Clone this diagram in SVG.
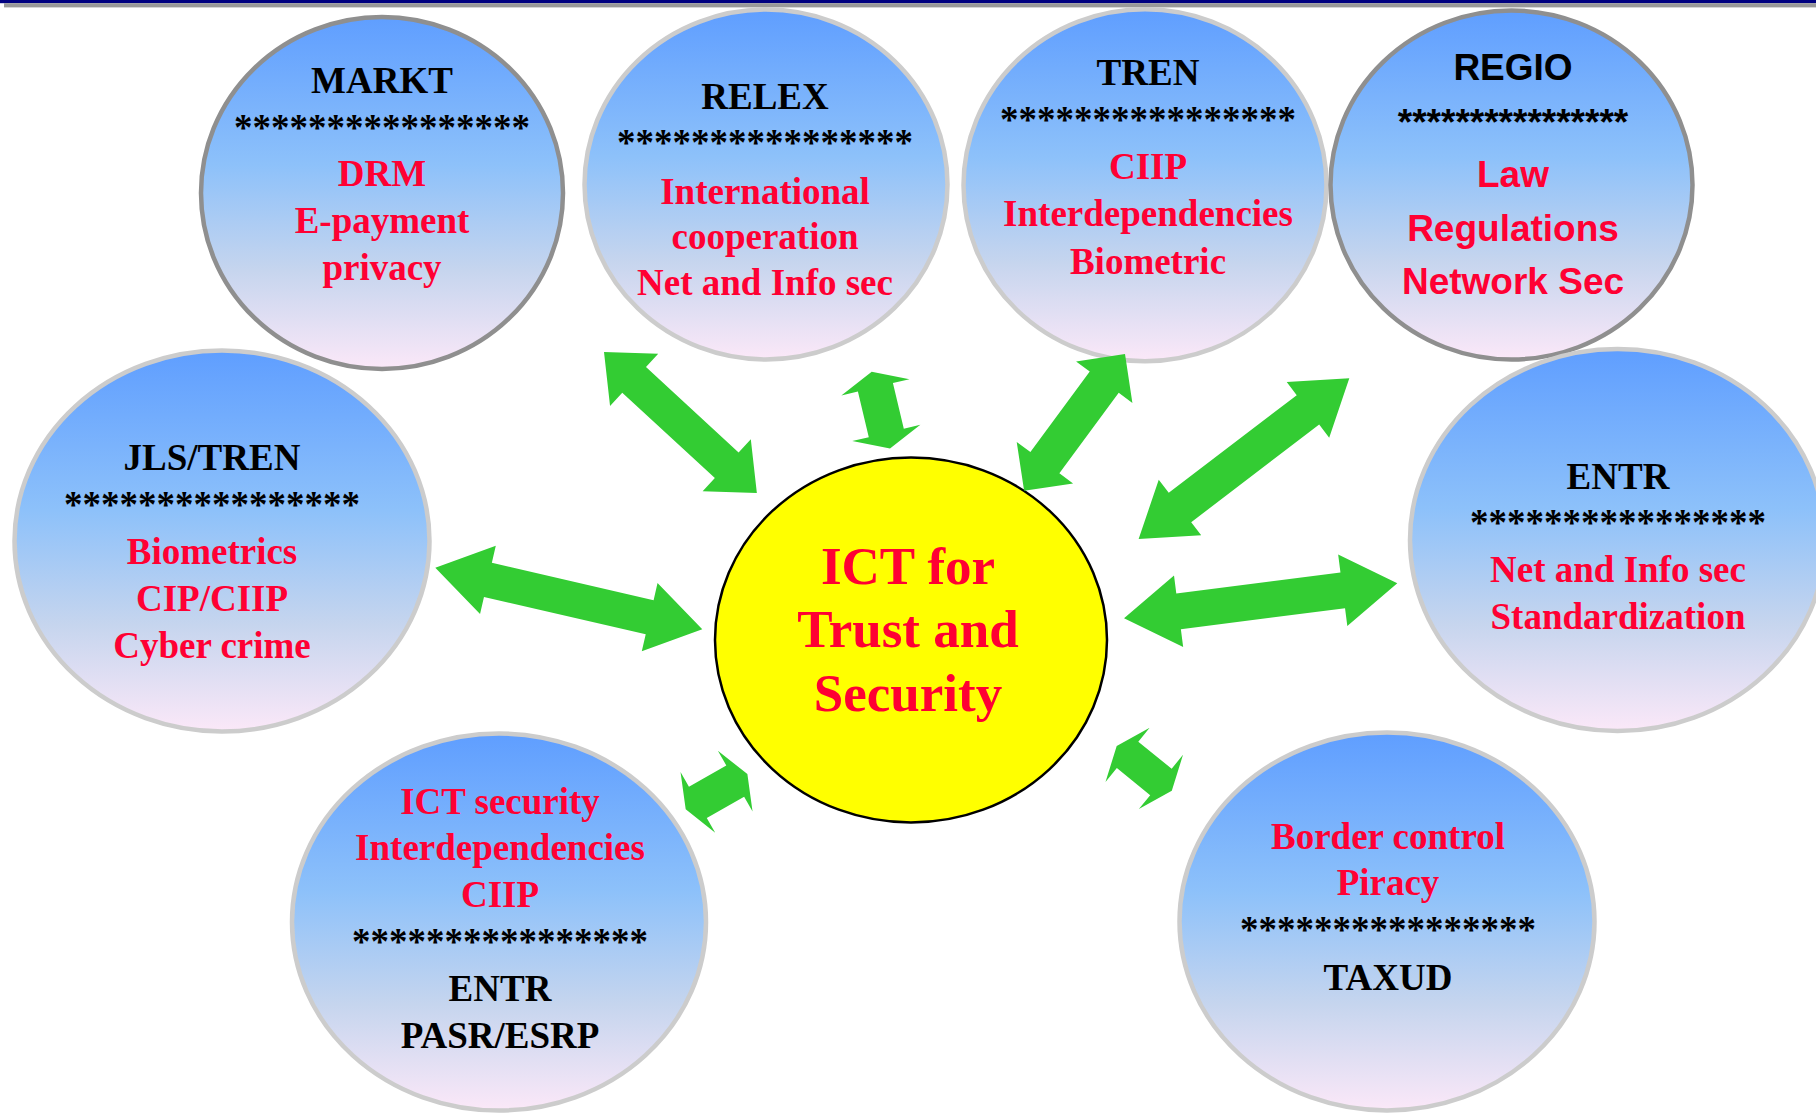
<svg xmlns="http://www.w3.org/2000/svg" width="1816" height="1114" viewBox="0 0 1816 1114">
  <defs>
    <linearGradient id="bubble" x1="0" y1="0" x2="0" y2="1">
      <stop offset="0" stop-color="#5F9EFF"/>
      <stop offset="0.42" stop-color="#8DC1FA"/>
      <stop offset="0.72" stop-color="#C6D5EE"/>
      <stop offset="1" stop-color="#FBE8F8"/>
    </linearGradient>
    <style>
      .bub { fill: url(#bubble); stroke-width: 4.5; }
      .light { stroke: #CCCCCC; }
      .dark { stroke: #8F8F8F; }
      .core { fill: #FFFF00; stroke: #000000; stroke-width: 2.5; }
      text { font-family: "Liberation Serif", "Times New Roman", serif; font-weight: bold; font-size: 37px; text-anchor: middle; }
      .sans { font-family: "Liberation Sans", Arial, sans-serif; }
      .k { fill: #000000; }
      .r { fill: #FF0033; }
      .big { font-size: 53px; }
      .arrow { fill: #33CC33; }
    </style>
  </defs>

  <rect width="1816" height="1114" fill="#FFFFFF"/>

  <!-- header rule -->
  <rect x="0" y="0" width="1816" height="3.2" fill="#000080"/>
  <rect x="4" y="3.2" width="1812" height="4.2" fill="#999999"/>

  <g id="markt">
    <ellipse class="bub dark" cx="382" cy="193" rx="181" ry="176"/>
    <text class="k" x="382" y="93">MARKT</text>
    <text class="k" x="382" y="140">****************</text>
    <text class="r" x="382" y="186">DRM</text>
    <text class="r" x="382" y="233">E-payment</text>
    <text class="r" x="382" y="280">privacy</text>
  </g>

  <g id="relex">
    <ellipse class="bub light" cx="766" cy="184.5" rx="181.5" ry="175"/>
    <text class="k" x="765" y="109">RELEX</text>
    <text class="k" x="765" y="155">****************</text>
    <text class="r" x="765" y="204">International</text>
    <text class="r" x="765" y="249">cooperation</text>
    <text class="r" x="765" y="295">Net and Info sec</text>
  </g>

  <g id="tren">
    <ellipse class="bub light" cx="1145" cy="185.3" rx="181.5" ry="176"/>
    <text class="k" x="1148" y="85">TREN</text>
    <text class="k" x="1148" y="132">****************</text>
    <text class="r" x="1148" y="179">CIIP</text>
    <text class="r" x="1148" y="226">Interdependencies</text>
    <text class="r" x="1148" y="274">Biometric</text>
  </g>

  <g id="regio">
    <ellipse class="bub dark" cx="1511.5" cy="185" rx="181" ry="174.5"/>
    <text class="k sans" x="1513" y="80">REGIO</text>
    <text class="k sans" x="1513" y="135">****************</text>
    <text class="r sans" x="1513" y="187">Law</text>
    <text class="r sans" x="1513" y="241">Regulations</text>
    <text class="r sans" x="1513" y="294">Network Sec</text>
  </g>

  <g id="jls-tren">
    <ellipse class="bub light" cx="222" cy="541" rx="207.5" ry="190.5"/>
    <text class="k" x="212" y="470">JLS/TREN</text>
    <text class="k" x="212" y="517">****************</text>
    <text class="r" x="212" y="564">Biometrics</text>
    <text class="r" x="212" y="611">CIP/CIIP</text>
    <text class="r" x="212" y="658">Cyber crime</text>
  </g>

  <g id="entr-right">
    <ellipse class="bub light" cx="1617.5" cy="540" rx="207.5" ry="191"/>
    <text class="k" x="1618" y="489">ENTR</text>
    <text class="k" x="1618" y="535">****************</text>
    <text class="r" x="1618" y="582">Net and Info sec</text>
    <text class="r" x="1618" y="629">Standardization</text>
  </g>

  <g id="entr-bottom">
    <ellipse class="bub light" cx="499" cy="922" rx="207" ry="188.5"/>
    <text class="r" x="500" y="814">ICT security</text>
    <text class="r" x="500" y="860">Interdependencies</text>
    <text class="r" x="500" y="907">CIIP</text>
    <text class="k" x="500" y="954">****************</text>
    <text class="k" x="500" y="1001">ENTR</text>
    <text class="k" x="500" y="1048">PASR/ESRP</text>
  </g>

  <g id="taxud">
    <ellipse class="bub light" cx="1387" cy="921.5" rx="207.5" ry="189"/>
    <text class="r" x="1388" y="849">Border control</text>
    <text class="r" x="1388" y="895">Piracy</text>
    <text class="k" x="1388" y="942">****************</text>
    <text class="k" x="1388" y="990">TAXUD</text>
  </g>

  <g id="ict-trust-security">
    <ellipse class="core" cx="911" cy="640" rx="196" ry="182.5"/>
    <text class="r big" x="908" y="584">ICT for</text>
    <text class="r big" x="908" y="647">Trust and</text>
    <text class="r big" x="908" y="711">Security</text>
  </g>

  <!-- two-headed block arrows, each drawn along +x from one tip and rotated into place -->
  <g id="connectors" class="arrow">
    <path transform="translate(604 352) rotate(42.7)" d="M0,0 L41,-35.5 L41,-17.5 L167,-17.5 L167,-35.5 L208,0 L167,35.5 L167,17.5 L41,17.5 L41,35.5Z"/>
    <path transform="translate(871.7 371.7) rotate(76.6)" d="M0,0 L16,-35 L16,-18 L63,-18 L63,-35 L79,0 L63,35 L63,18 L16,18 L16,35Z"/>
    <path transform="translate(1125 354) rotate(126.4)" d="M0,0 L35,-35 L35,-18 L135,-18 L135,-35 L170,0 L135,35 L135,18 L35,18 L35,35Z"/>
    <path transform="translate(1349.3 378.3) rotate(142.65)" d="M0,0 L52,-35 L52,-18.5 L213,-18.5 L213,-35 L265,0 L213,35 L213,18.5 L52,18.5 L52,35Z"/>
    <path transform="translate(1397.3 583.3) rotate(172.7)" d="M0,0 L55,-36 L55,-18 L220.5,-18 L220.5,-36 L275.5,0 L220.5,36 L220.5,18 L55,18 L55,36Z"/>
    <path transform="translate(1116.7 746) rotate(39.1)" d="M0,0 L14,-35 L14,-17 L57,-17 L57,-35 L71,0 L57,35 L57,17 L14,17 L14,35Z"/>
    <path transform="translate(685.7 809.3) rotate(-29.7)" d="M0,0 L14,-35 L14,-18 L57,-18 L57,-35 L71,0 L57,35 L57,18 L14,18 L14,35Z"/>
    <path transform="translate(435.3 567.7) rotate(13)" d="M0,0 L54,-35 L54,-17.5 L220,-17.5 L220,-35 L274,0 L220,35 L220,17.5 L54,17.5 L54,35Z"/>
  </g>
</svg>
